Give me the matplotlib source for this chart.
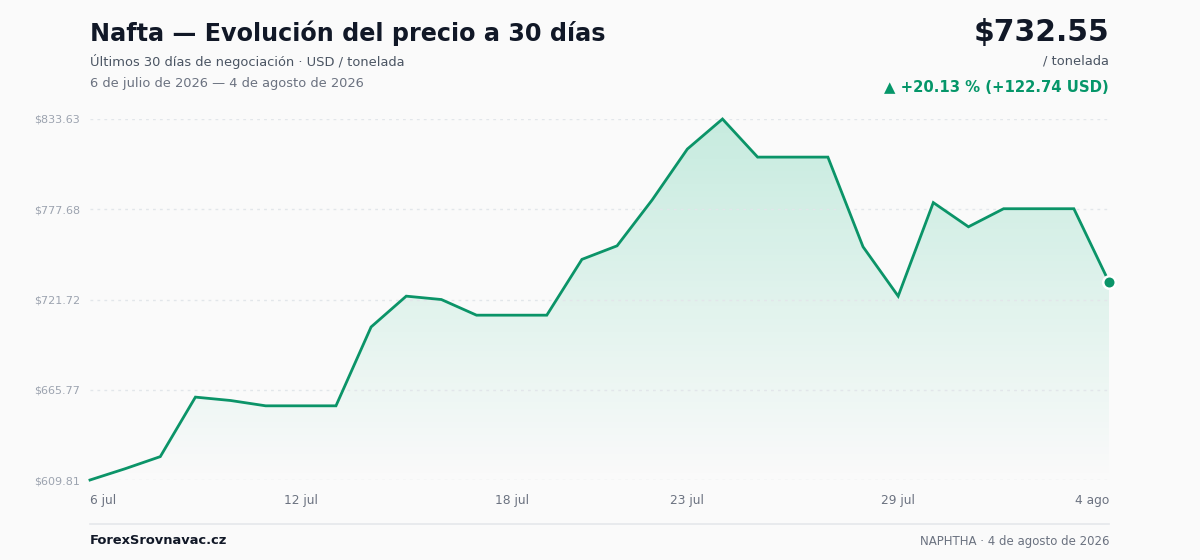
import numpy as np
import matplotlib.pyplot as plt
from matplotlib.colors import LinearSegmentedColormap

# Datos: precio diario de la nafta (USD / tonelada)
dias = list(range(30))
precios = [609.81, 616.8, 624.3, 661.2, 659.1, 655.8, 655.8, 655.8, 704.7, 723.8,
           721.7, 712.0, 712.0, 712.0, 746.6, 755.0, 783.5, 815.0, 833.63, 810.0,
           810.0, 810.0, 754.4, 723.8, 781.8, 766.8, 778.0, 778.0, 778.0, 732.55]
etiquetas_x = ['6 jul', '12 jul', '18 jul', '23 jul', '29 jul', '4 ago']
pos_x = [0, 6, 12, 17, 23, 29]

verde = '#0b9468'
fondo = '#fafafa'

ymin, ymax = min(precios), max(precios)
ticks_y = np.linspace(ymin, ymax, 5)

fig = plt.figure(figsize=(12, 5.6), dpi=100, facecolor=fondo)
ax = fig.add_axes([90 / 1200, 1 - 480 / 560, 1019 / 1200, 361 / 560])
ax.set_facecolor(fondo)

ax.set_xlim(0, 29)
ax.set_ylim(ymin, ymax)

# grid punteado (por encima del relleno)
for t in ticks_y:
    ax.axhline(t, color='#e2e6ea', lw=1, ls=(0, (2, 3)), zorder=2)

# relleno con degradado
poly = ax.fill_between(dias, precios, ymin, color='none', lw=0)
grad = np.linspace(0, 1, 256).reshape(-1, 1)
cmap = LinearSegmentedColormap.from_list('g', [(0.06, 0.72, 0.5, 0.0), (0.06, 0.72, 0.5, 0.22)])
img = ax.imshow(grad, aspect='auto', cmap=cmap, origin='lower',
                extent=[0, 29, ymin, ymax], zorder=1)
img.set_clip_path(poly.get_paths()[0], transform=ax.transData)

ax.plot(dias, precios, color=verde, lw=2, zorder=3, clip_on=False, solid_joinstyle='miter')
ax.plot(dias[-1], precios[-1], 'o', ms=9, color=verde, mec='white', mew=1.8,
        zorder=4, clip_on=False)

for s in ax.spines.values():
    s.set_visible(False)
ax.tick_params(length=0)
ax.set_yticks(ticks_y)
ax.set_yticklabels(['$%.2f' % (t + 1e-6) for t in ticks_y], fontsize=8, color='#9ca3af')
ax.tick_params(axis='y', pad=7)
ax.set_xticks(pos_x)
ax.set_xticklabels(etiquetas_x, fontsize=8.8, color='#6b7280')
ax.tick_params(axis='x', pad=10)
labs = ax.get_xticklabels()
labs[0].set_ha('left')
labs[-1].set_ha('right')

# textos de cabecera
fig.text(90 / 1200, 1 - 33 / 560, 'Nafta — Evolución del precio a 30 días', fontsize=17.2,
         fontweight='bold', color='#111827', va='center', ha='left')
fig.text(90 / 1200, 1 - 61 / 560, 'Últimos 30 días de negociación · USD / tonelada',
         fontsize=9.4, color='#4b5563', va='center', ha='left')
fig.text(90 / 1200, 1 - 83 / 560, '6 de julio de 2026 — 4 de agosto de 2026',
         fontsize=9.4, color='#6b7280', va='center', ha='left')

fig.text(1109 / 1200, 1 - 32 / 560, '$732.55', fontsize=21.4, fontweight='bold',
         color='#111827', va='center', ha='right')
fig.text(1109 / 1200, 1 - 61 / 560, '/ tonelada', fontsize=9.4, color='#4b5563',
         va='center', ha='right')
fig.text(1109 / 1200, 1 - 87 / 560, '▲ +20.13 % (+122.74 USD)', fontsize=10.7,
         fontweight='bold', color='#059669', va='center', ha='right')

# pie
fig.add_artist(plt.Line2D([90 / 1200, 1109 / 1200], [1 - 524 / 560, 1 - 524 / 560],
                          color='#e5e7eb', lw=1.2))
fig.text(90 / 1200, 1 - 541 / 560, 'ForexSrovnavac.cz', fontsize=9.4, fontweight='bold',
         color='#111827', va='center', ha='left')
fig.text(1109 / 1200, 1 - 541 / 560, 'NAPHTHA · 4 de agosto de 2026', fontsize=8.5,
         color='#6b7280', va='center', ha='right')

fig.savefig('out.png', dpi=100, facecolor=fondo)
